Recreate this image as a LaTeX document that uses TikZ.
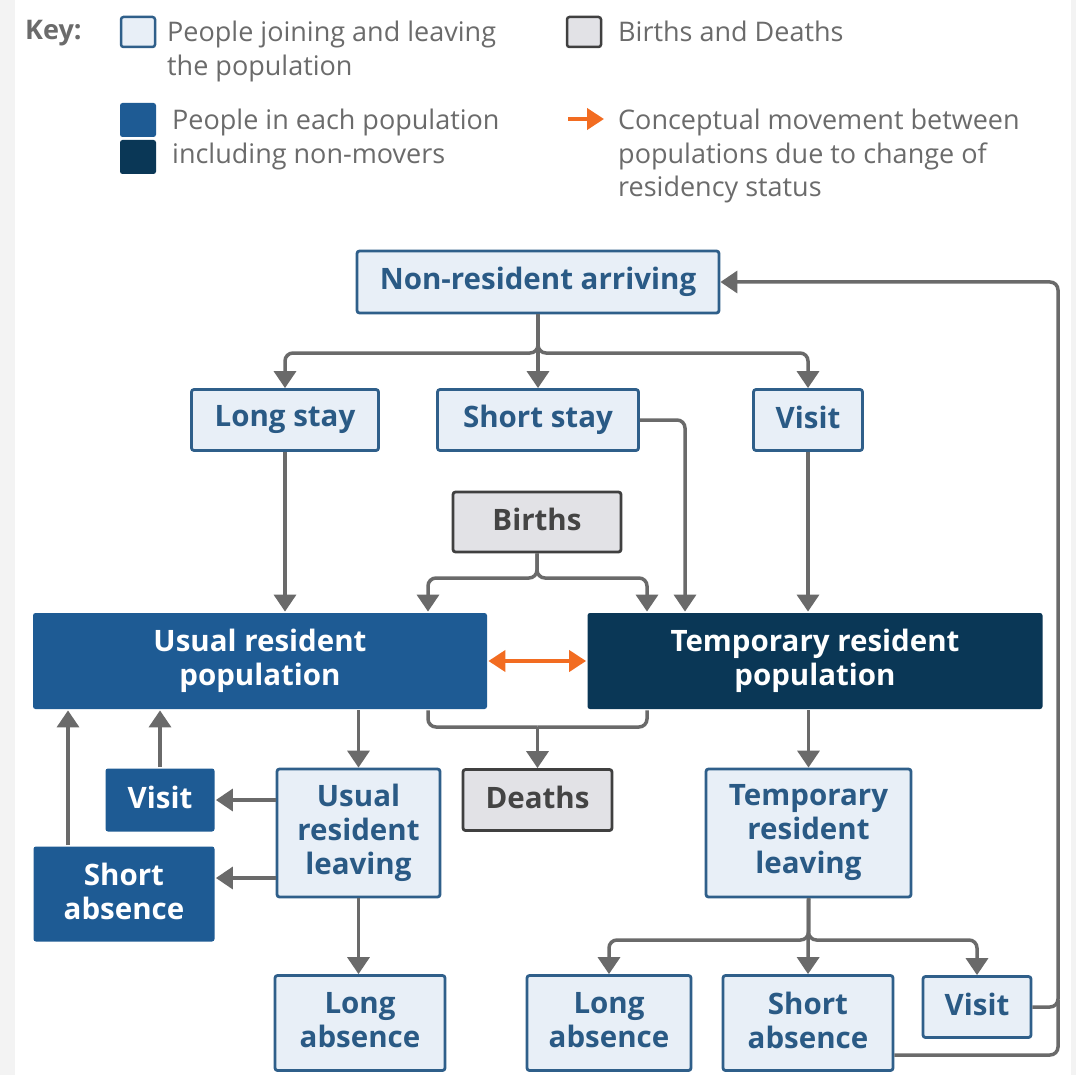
\documentclass[tikz,border=0pt]{standalone}
\usepackage{fontspec}
\setmainfont{Open Sans}
\usetikzlibrary{arrows.meta}
\definecolor{lightfill}{HTML}{E8EFF7}
\definecolor{boxblue}{HTML}{2F5F8A}
\definecolor{textblue}{HTML}{2A5A85}
\definecolor{midblue}{HTML}{1E5B94}
\definecolor{darkblue}{HTML}{0A3756}
\definecolor{grayfill}{HTML}{E2E2E6}
\definecolor{grayborder}{HTML}{404040}
\definecolor{graytext}{HTML}{444444}
\definecolor{conncol}{HTML}{6A6A6A}
\definecolor{keytext}{HTML}{6B6B6B}
\definecolor{orangec}{HTML}{F26C21}
\definecolor{sidegray}{HTML}{F3F3F3}
\newcommand\lstr{\rule[-6pt]{0pt}{27pt}}
\begin{document}
\begin{tikzpicture}[x=1pt,y=-1pt,
  nodebox/.style={rounded corners=2.5pt, line width=2.8pt, align=center, inner sep=0pt,
    font=\bfseries\fontsize{29.5}{34}\selectfont},
  joinbox/.style={nodebox, draw=boxblue, fill=lightfill, text=textblue},
  popU/.style={nodebox, fill=midblue, text=white},
  popT/.style={nodebox, fill=darkblue, text=white},
  vitalbox/.style={nodebox, draw=grayborder, fill=grayfill, text=graytext},
  sz/.style 2 args={minimum width=#1, minimum height=#2},
  connline/.style={draw=conncol, line width=3.5pt, rounded corners=8pt},
  arr/.style={connline, -{Triangle[width=22pt,length=17pt]}},
  oarr/.style={draw=orangec, line width=4pt,
    {Triangle[width=21pt,length=17pt]}-{Triangle[width=21pt,length=17pt]}},
  keytxt/.style={anchor=north west, align=left, inner sep=0pt, text=keytext,
    font=\fontsize{27}{33.5}\selectfont}
]
% canvas
\path[use as bounding box] (0,0) rectangle (1076,1075);
\fill[white] (0,0) rectangle (1076,1075);
\fill[sidegray] (0,0) rectangle (15,1075);
\fill[sidegray] (1071,0) rectangle (1076,1075);

% ---------- key ----------
\node[anchor=west, inner sep=0pt, text=keytext, font=\bfseries\fontsize{27}{33}\selectfont] (keylabel) at (25,33) {Key:};
\node[joinbox, sz={34}{30}, line width=2.5pt] (keyjoin) at (138,32) {};
\node[keytxt] (keyjointxt) at (167,21) {People joining and leaving\\the population};
\node[vitalbox, sz={34}{30}, line width=2.5pt] (keyvital) at (584,32) {};
\node[keytxt] (keyvitaltxt) at (618,21) {Births and Deaths};
\node[popU, sz={36}{34}] (keyusual) at (138,120) {};
\node[popT, sz={36}{34}] (keytemp) at (138,157) {};
\node[keytxt] (keypoptxt) at (172,109) {People in each population\\including non-movers};
\coordinate (ka1) at (568,119);
\coordinate (ka2) at (604,119);
\draw[draw=orangec, line width=4pt, -{Triangle[width=21pt,length=17pt]}] (ka1) -- (ka2);
\node[keytxt] (keyarrtxt) at (618,109) {Conceptual movement between\\populations due to change of\\residency status};

% ---------- nodes ----------
\node[joinbox, sz={362}{62}] (nra) at (538,282) {\lstr Non-resident arriving};
\node[joinbox, sz={187}{61}] (longstay) at (285,420) {\lstr Long stay};
\node[joinbox, sz={201}{61}] (shortstay) at (538,420) {\lstr Short stay};
\node[joinbox, sz={109}{61}] (visitT) at (808,420) {\lstr Visit};
\node[vitalbox, sz={168}{60}] (births) at (537,522) {\lstr Births};
\node[popU, sz={454}{96}] (usual) at (260,661) {\lstr Usual resident\\\lstr population};
\node[popT, sz={455}{96}] (temp) at (815,661) {\lstr Temporary resident\\\lstr population};
\node[popU, sz={109}{63}] (visitL) at (160,800) {\lstr Visit};
\node[popU, sz={181}{95}] (shortL) at (124,894) {\lstr Short\\\lstr absence};
\node[joinbox, sz={163}{128}] (url) at (358.5,833) {\lstr Usual\\\lstr resident\\\lstr leaving};
\node[vitalbox, sz={149}{61}] (deaths) at (537.5,800) {\lstr Deaths};
\node[joinbox, sz={205}{128}] (trl) at (808.5,833) {\lstr Temporary\\\lstr resident\\\lstr leaving};
\node[joinbox, sz={170}{95}] (longL) at (360,1023) {\lstr Long\\\lstr absence};
\node[joinbox, sz={164}{95}] (longR) at (609,1023) {\lstr Long\\\lstr absence};
\node[joinbox, sz={170}{95}] (shortR) at (808,1023) {\lstr Short\\\lstr absence};
\node[joinbox, sz={108}{61}] (visitR) at (977,1007) {\lstr Visit};

% ---------- connectors ----------
% arrivals
\coordinate (nrab) at (538,353);
\draw[arr] (nra.south) -- (nrab) -| (longstay.north);
\draw[arr] (nra.south) -- (shortstay.north);
\draw[arr] (nra.south) -- (nrab) -| (visitT.north);
\draw[arr] (longstay.south) -- (longstay.south |- usual.north);
\draw[arr] (shortstay.east) -| (685,0 |- temp.north);
\draw[arr] (visitT.south) -- (visitT.south |- temp.north);
% births
\coordinate (bb) at (537,578);
\draw[arr] (births.south) -- (bb) -| (428,0 |- usual.north);
\draw[arr] (births.south) -- (bb) -| (647,0 |- temp.north);
% change of status
\draw[oarr] (usual.east) -- (temp.west);
% deaths
\coordinate (db) at (537.5,727);
\draw[connline] (428,0 |- usual.south) |- (db);
\draw[connline] (647,0 |- temp.south) |- (db);
\draw[arr] (db) -- (deaths.north);
% usual residents leaving
\draw[arr] (url.north |- usual.south) -- (url.north);
\draw[arr] (url.west |- visitL.east) -- (visitL.east);
\draw[arr] (url.west |- 0,878) -- (shortL.east |- 0,878);
\draw[arr] (visitL.north) -- (visitL.north |- usual.south);
\draw[arr] (68,0 |- shortL.north) -- (68,0 |- usual.south);
\draw[arr] (url.south) -- (url.south |- longL.north);
% temporary residents leaving
\draw[arr] (trl.north |- temp.south) -- (trl.north);
\coordinate (tb) at (808.5,940);
\draw[arr] (trl.south) -- (tb) -| (longR.north);
\draw[arr] (trl.south) -- (shortR.north);
\draw[arr] (trl.south) -- (tb) -| (visitR.north);
% return loop
\coordinate (rc) at (1058,282);
\draw[arr] (visitR.east) -| (rc) -- (nra.east);
\draw[connline] (shortR.east |- 0,1055) -| (1058,1000);
\end{tikzpicture}
\end{document}
